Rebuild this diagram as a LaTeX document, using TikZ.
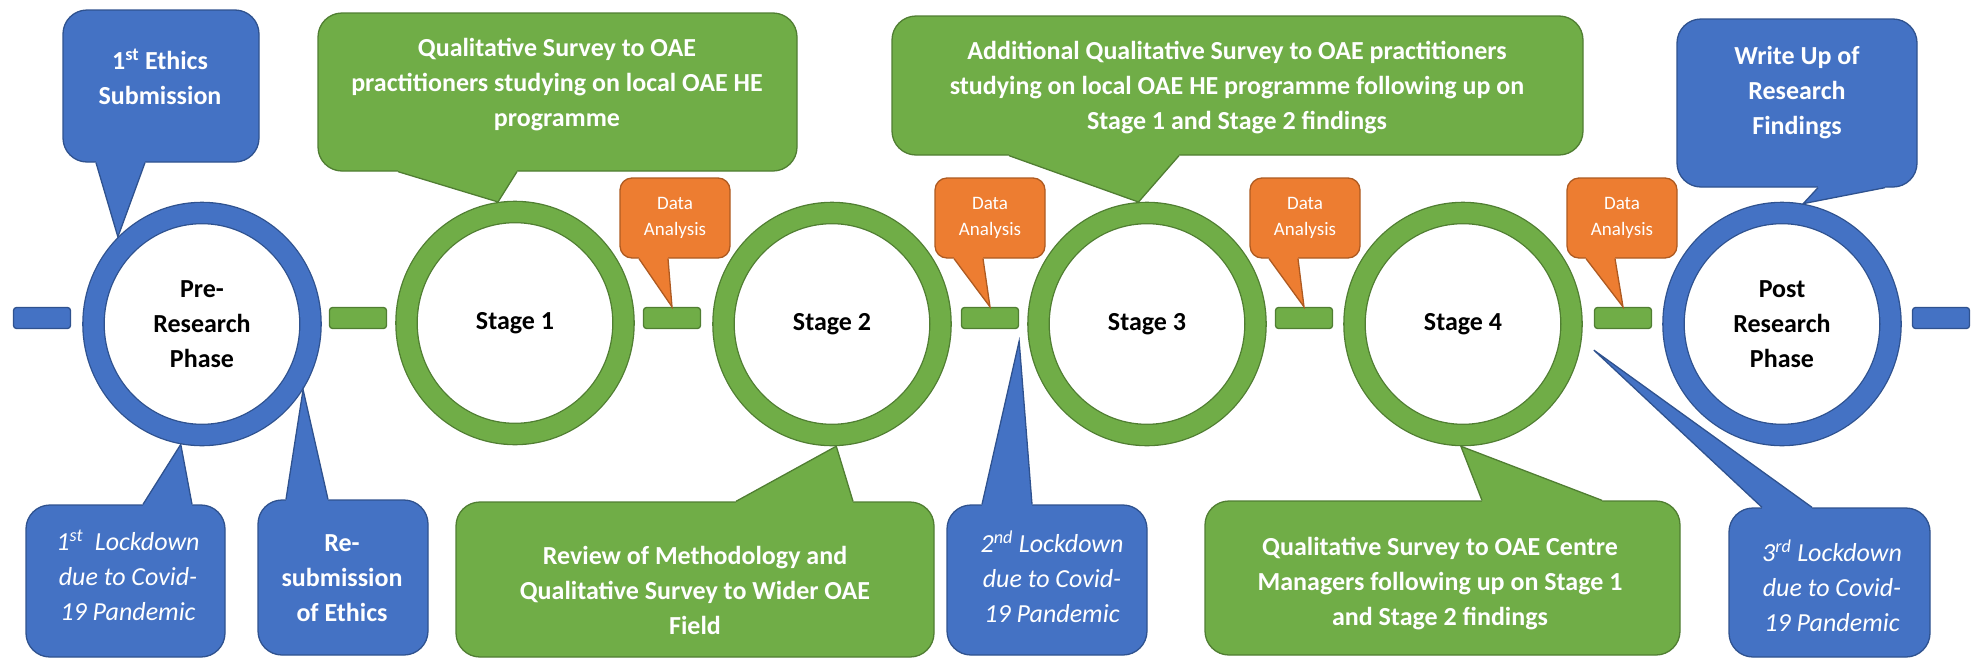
\documentclass[tikz,border=0pt]{standalone}
\usepackage{fontspec}
\setmainfont{Carlito}
\usepackage{tikz}
\usetikzlibrary{shapes.geometric}

\definecolor{blueF}{HTML}{4472C4}
\definecolor{blueD}{HTML}{2F528F}
\definecolor{greenF}{HTML}{70AD47}
\definecolor{greenD}{HTML}{507E32}
\definecolor{orangeF}{HTML}{ED7D31}
\definecolor{orangeD}{HTML}{AE5A21}

\tikzset{
  ring/.style={ellipse, minimum width=217, minimum height=222, inner sep=0,
    line width=1.3, double distance=20, outer sep=11.3, align=center,
    font=\fontsize{26}{35}\selectfont\bfseries},
  joint/.style={rectangle, rounded corners=3, minimum width=57, minimum height=21, line width=1.3},
  bubble/.style={rectangle, rounded corners=24, line width=1.3},
  databox/.style={rectangle, rounded corners=12, minimum width=110, minimum height=80,
    fill=orangeF, draw=orangeD, line width=1.3},
  calltext/.style={text=white, align=center, inner sep=0, font=\fontsize{26}{35}\selectfont\bfseries},
  locktext/.style={text=white, align=center, inner sep=0, font=\fontsize{26}{35}\selectfont\itshape},
  datatext/.style={text=white, align=center, inner sep=0, font=\fontsize{19}{26}\selectfont},
}

\begin{document}
\begin{tikzpicture}[x=1pt, y=-1pt]
\useasboundingbox (0,0) rectangle (1975,659);

% phases and stages
\node[ring, draw=blueD, double=blueF] (pre) at (202,324) {Pre-\\Research\\Phase};
\node[ring, draw=greenD, double=greenF] (st1) at (515,323) {Stage 1};
\node[ring, draw=greenD, double=greenF] (st2) at (832,324) {Stage 2};
\node[ring, draw=greenD, double=greenF] (st3) at (1147,324) {Stage 3};
\node[ring, draw=greenD, double=greenF] (st4) at (1463,324) {Stage 4};
\node[ring, draw=blueD, double=blueF] (post) at (1782,324) {Post\\Research\\Phase};

% links on the time line
\foreach \n/\x/\col in {0/42/blue,1/358/green,2/672/green,3/990/green,4/1304/green,5/1623/green,6/1941/blue}
  \node[joint, fill=\col F, draw=\col D] (j\n) at (\x,318) {};

\coordinate (lk2tip) at ([yshift=-12pt]j3.south east);
\coordinate (lk3tip) at ([yshift=-21pt]j5.south west);

% callout boxes
\node[bubble, fill=blueF, draw=blueD, minimum width=196, minimum height=152] (eth1) at (161,86) {};
\node[bubble, fill=greenF, draw=greenD, minimum width=479, minimum height=158] (q1) at (557.5,92) {};
\node[bubble, fill=greenF, draw=greenD, minimum width=691, minimum height=139] (add) at (1237.5,85.5) {};
\node[bubble, fill=blueF, draw=blueD, minimum width=240, minimum height=168] (wu) at (1797,103) {};
\node[bubble, fill=blueF, draw=blueD, minimum width=199, minimum height=152] (lk1) at (125.5,581) {};
\node[bubble, fill=blueF, draw=blueD, minimum width=170, minimum height=155] (resub) at (343,577.5) {};
\node[bubble, fill=greenF, draw=greenD, minimum width=478, minimum height=155] (rev) at (695,579.5) {};
\node[bubble, fill=blueF, draw=blueD, minimum width=200, minimum height=150] (lk2) at (1047,580) {};
\node[bubble, fill=greenF, draw=greenD, minimum width=475, minimum height=154] (cen) at (1442.5,578) {};
\node[bubble, fill=blueF, draw=blueD, minimum width=201, minimum height=149] (lk3) at (1829.5,582.5) {};

\foreach \n/\x in {1/675,2/990,3/1305,4/1622}
  \node[databox] (da\n) at (\x,218) {};

% pointers of the callouts
\foreach \bx/\xa/\xb/\tip/\sd/\col in {eth1/96/145/pre.134/south/blue, q1/398/517/st1.98/south/green,
    add/1009/1179/st3.94/south/green, wu/1818/1885/post.80/south/blue,
    lk1/143/192/pre.-100/north/blue, resub/286/328/pre.-33/north/blue,
    rev/736/853/st2.-88/north/green, lk2/982/1032/lk2tip/north/blue,
    cen/1482/1602/st4.-91/north/green, lk3/1762/1812/lk3tip/north/blue,
    da1/639/668/j2.north/south/orange, da2/954/983/j3.north/south/orange,
    da3/1269/1298/j4.north/south/orange, da4/1586/1615/j5.north/south/orange}
{
  \fill[\col F] (\xa,0 |- \bx.center) -- (\xa,0 |- \bx.\sd) -- (\tip) -- (\xb,0 |- \bx.\sd) -- (\xb,0 |- \bx.center) -- cycle;
  \draw[\col D, line width=1.3] (\xa,0 |- \bx.\sd) -- (\tip) -- (\xb,0 |- \bx.\sd);
}

% texts of the callouts
\foreach \n in {1,2,3,4}
  \node[datatext] (da\n t) at (da\n) {Data\\Analysis};
\node[calltext] (eth1t) at (160,77) {1\textsuperscript{st} Ethics\\Submission};
\node[calltext] (q1t) at (557,85) {Qualitative Survey to OAE\\practitioners studying on local OAE HE\\programme};
\node[calltext] (addt) at (1237,87.5) {Additional Qualitative Survey to OAE practitioners\\studying on local OAE HE programme following up on\\Stage 1 and Stage 2 findings};
\node[calltext] (wut) at (1797,93) {Write Up of\\Research\\Findings};
\node[locktext] (lk1t) at (128,575) {1\textsuperscript{st}~ Lockdown\\due to Covid-\\19 Pandemic};
\node[calltext] (resubt) at (342,578) {Re-\\submission\\of Ethics};
\node[calltext] (revt) at (695,590) {Review of Methodology and\\Qualitative Survey to Wider OAE\\Field};
\node[locktext] (lk2t) at (1052,577) {2\textsuperscript{nd} Lockdown\\due to Covid-\\19 Pandemic};
\node[calltext] (cent) at (1440,583.5) {Qualitative Survey to OAE Centre\\Managers following up on Stage 1\\and Stage 2 findings};
\node[locktext] (lk3t) at (1832,586) {3\textsuperscript{rd} Lockdown\\due to Covid-\\19 Pandemic};
\end{tikzpicture}
\end{document}
